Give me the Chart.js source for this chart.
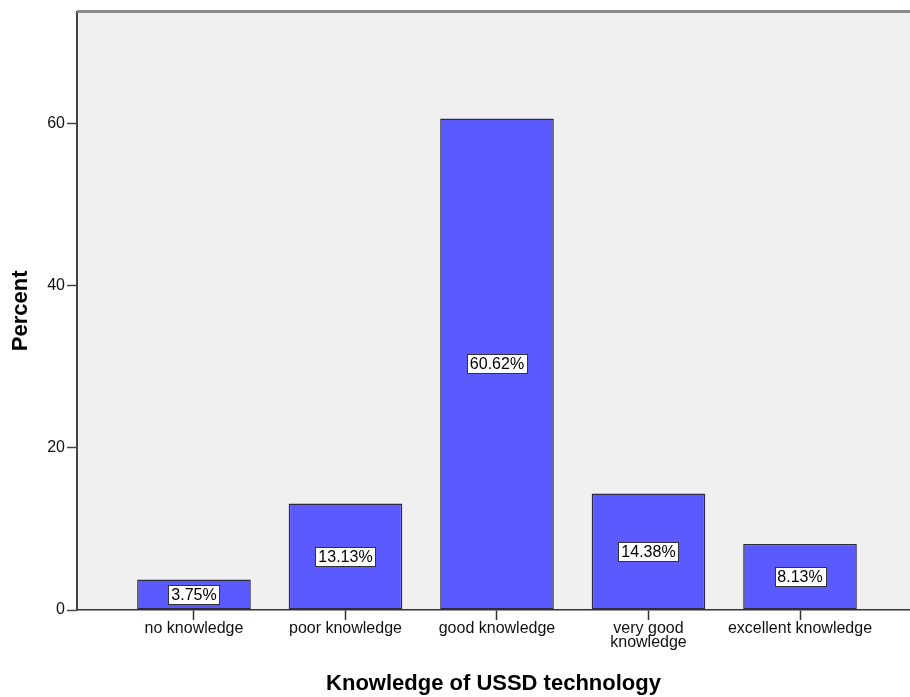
<!DOCTYPE html>
<html>
<head>
<meta charset="utf-8">
<script src="https://cdn.jsdelivr.net/npm/chart.js@4.4.0/dist/chart.umd.min.js"></script>
<style>
  html, body { margin: 0; padding: 0; background: #fff; }
  #wrap { width: 910px; height: 697px; }
</style>
</head>
<body>
<div id="wrap"><canvas id="knowledgeChart" width="910" height="697"></canvas></div>
<script>
// Knowledge of USSD technology - percent per category
const categories = ['no knowledge', 'poor knowledge', 'good knowledge', ['very good', 'knowledge'], 'excellent knowledge'];
const percents = [3.75, 13.13, 60.62, 14.38, 8.13];
const yTicks = [0, 20, 40, 60];

const FONT = "'Liberation Sans', Arial, sans-serif";

// grey plot background + top border line
const plotFrame = {
  id: 'plotFrame',
  beforeDraw(chart) {
    const { ctx, chartArea: a } = chart;
    ctx.save();
    ctx.fillStyle = '#f0f0f0';
    ctx.fillRect(a.left, a.top, a.right - a.left, a.bottom - a.top);
    ctx.restore();
  },
  afterDraw(chart) {
    const { ctx, chartArea: a } = chart;
    ctx.save();
    ctx.strokeStyle = '#8a8a8a';
    ctx.lineWidth = 3;
    ctx.beginPath();
    ctx.moveTo(a.left, a.top);
    ctx.lineTo(a.right, a.top);
    ctx.stroke();
    ctx.restore();
  }
};

// white boxed value labels in the middle of each bar
const valueBoxes = {
  id: 'valueBoxes',
  afterDatasetsDraw(chart) {
    const { ctx } = chart;
    const meta = chart.getDatasetMeta(0);
    ctx.save();
    ctx.font = '16px ' + FONT;
    ctx.textAlign = 'center';
    ctx.textBaseline = 'middle';
    meta.data.forEach((bar, i) => {
      const txt = percents[i].toFixed(2) + '%';
      const cx = bar.x;
      const cy = (bar.y + bar.base) / 2;
      const w = Math.round(ctx.measureText(txt).width + 6);
      const h = 19;
      const l = Math.round(cx - w / 2), t = Math.round(cy - h / 2);
      ctx.fillStyle = 'rgba(0,0,0,0.3)';
      ctx.fillRect(l + 1, t + 1, w, h);
      ctx.fillStyle = '#fff';
      ctx.fillRect(l, t, w, h);
      ctx.strokeStyle = '#333';
      ctx.lineWidth = 1;
      ctx.strokeRect(l + 0.5, t + 0.5, w, h);
      ctx.fillStyle = '#000';
      ctx.fillText(txt, cx, cy + 1);
    });
    ctx.restore();
  }
};

const ctx = document.getElementById('knowledgeChart').getContext('2d');
const knowledgeChart = new Chart(ctx, {
  type: 'bar',
  data: {
    datasets: [{
      label: 'Percent',
      data: percents.map((v, i) => ({ x: i, y: v })),
      backgroundColor: '#5a5aff',
      borderColor: '#2a2a40',
      borderWidth: 1.5,
      borderSkipped: false,
      barPercentage: 0.75,
      categoryPercentage: 1
    }]
  },
  options: {
    responsive: false,
    animation: false,
    layout: { padding: { top: 10, right: 0, left: 0, bottom: 0 } },
    plugins: {
      legend: { display: false },
      tooltip: { enabled: false }
    },
    scales: {
      x: {
        type: 'linear',
        offset: false,
        min: -0.772,
        max: 4.726,
        afterBuildTicks: (scale) => {
          scale.ticks = categories.map((c, i) => ({ value: i }));
        },
        afterFit: (scale) => { scale.height = 87; },
        border: { color: '#333', width: 1.5 },
        grid: { offset: false, drawOnChartArea: false, drawTicks: true, tickLength: 10, tickColor: '#333', tickWidth: 1.5 },
        ticks: {
          autoSkip: false,
          maxRotation: 0,
          padding: 1,
          color: '#111',
          font: { family: FONT, size: 16, lineHeight: 0.9 },
          callback: (value) => categories[value]
        },
        title: {
          display: true,
          text: 'Knowledge of USSD technology',
          color: '#000',
          font: { family: FONT, size: 22, weight: 'bold' },
          padding: { top: 6, bottom: 0 }
        }
      },
      y: {
        min: 0,
        max: 73.8,
        afterBuildTicks: (scale) => {
          scale.ticks = yTicks.map(v => ({ value: v }));
        },
        afterFit: (scale) => { scale.width = 77; },
        border: { color: '#444', width: 2 },
        grid: { drawOnChartArea: false, drawTicks: true, tickLength: 10, tickColor: '#444', tickWidth: 1.5 },
        ticks: {
          padding: 2,
          color: '#111',
          font: { family: FONT, size: 16 }
        },
        title: {
          display: true,
          text: 'Percent',
          color: '#000',
          font: { family: FONT, size: 22, weight: 'bold' },
          padding: { top: 8, bottom: 0 }
        }
      }
    }
  },
  plugins: [plotFrame, valueBoxes]
});
</script>
</body>
</html>
